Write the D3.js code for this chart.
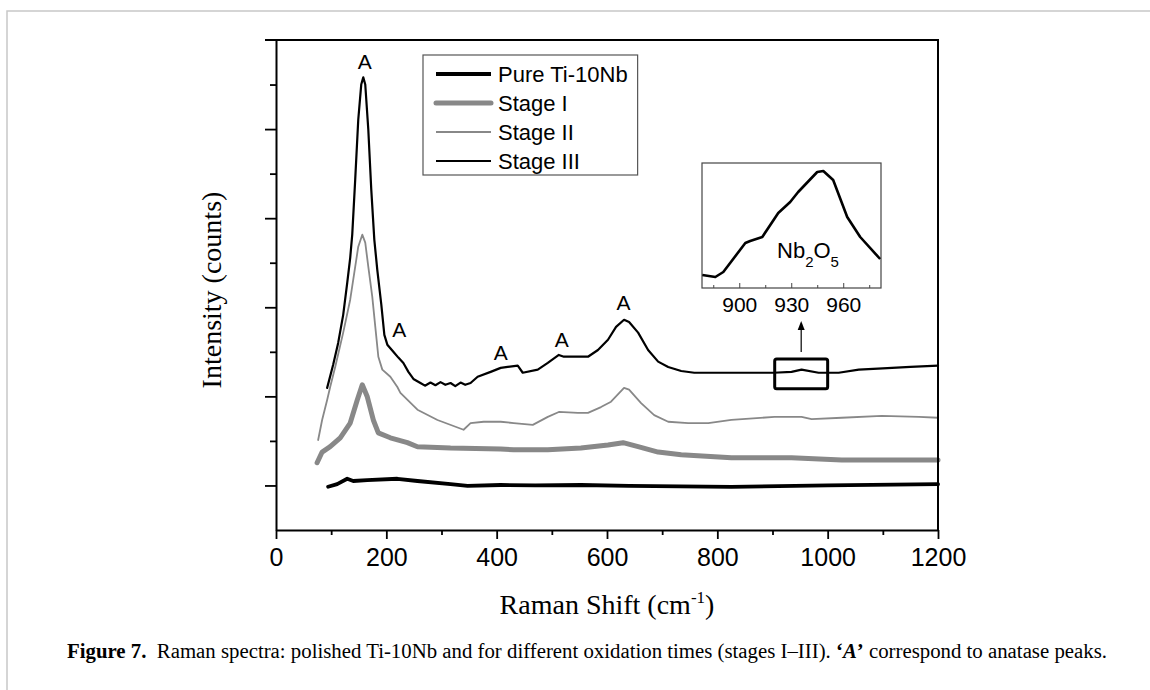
<!DOCTYPE html>
<html><head><meta charset="utf-8">
<script src="https://cdn.jsdelivr.net/npm/d3@7"></script>
<style>body{margin:0;background:#fff}svg{display:block}</style>
</head><body><svg id="c" width="1150" height="690"></svg>
<script>
// ---- data (Raman shift cm^-1, intensity in arbitrary units) ----
const pureTi = [[94.5,0.97],[110.9,1.03],[129.1,1.15],[140,1.10],[165.5,1.12],[220,1.15],[256.4,1.10],[316.4,1.03],[347.3,0.99],[407.3,1.01],[470,1.00],[552.7,1.01],[640,0.99],[825.5,0.97],[1000,1.00],[1200,1.03]];
const stageI = [[74.5,1.51],[83.6,1.75],[98.2,1.87],[116.4,2.07],[134.5,2.40],[147.3,2.92],[156.4,3.26],[165.5,2.99],[176.4,2.47],[185.5,2.18],[207.3,2.07],[238.2,1.96],[256.4,1.87],[316.4,1.84],[407.3,1.82],[430.9,1.80],[492.7,1.80],[552.7,1.84],[601.8,1.91],[629.1,1.96],[656.4,1.87],[692.7,1.75],[734.5,1.69],[825.5,1.62],[934.5,1.62],[1025.5,1.57],[1200,1.57]];
const stageII = [[76.4,2.02],[83.6,2.47],[92.7,2.92],[98.2,3.21],[107.3,3.66],[121.8,4.43],[134.5,5.17],[143.6,5.91],[149.1,6.36],[156.4,6.63],[161.8,6.45],[167.3,5.91],[174.5,5.24],[180,4.56],[185.5,3.89],[192.7,3.60],[207.3,3.44],[220,3.21],[225.5,3.08],[256.4,2.70],[292.7,2.47],[340,2.25],[352.7,2.40],[376.4,2.43],[407.3,2.43],[430.9,2.40],[465.5,2.36],[492.7,2.54],[512.7,2.65],[547.3,2.63],[565.5,2.63],[589.1,2.76],[607.3,2.88],[630.9,3.19],[640,3.15],[661.8,2.85],[685.5,2.58],[710.9,2.43],[747.3,2.40],[783.6,2.40],[825.5,2.47],[903.6,2.54],[952.7,2.54],[970.9,2.49],[1025.5,2.52],[1098.2,2.56],[1165.5,2.54],[1200,2.52]];
const stageIII = [[92.7,3.19],[103.6,3.71],[112.7,4.20],[121.8,4.83],[129.1,5.55],[134.5,6.11],[138.2,6.63],[143.6,7.87],[149.1,9.21],[154.5,10.0],[158.2,10.16],[161.8,10.0],[167.3,8.99],[172.7,7.64],[178.2,6.52],[183.6,5.84],[190.9,5.06],[196.4,4.38],[201.8,4.16],[212.7,4.00],[221.8,3.87],[230.9,3.75],[240,3.55],[249.1,3.39],[261.8,3.30],[270,3.24],[280,3.31],[289,3.25],[298.2,3.32],[307,3.26],[316.4,3.30],[325,3.23],[334.5,3.31],[343,3.26],[352.7,3.30],[365.5,3.44],[389.1,3.55],[407.3,3.64],[420,3.66],[438.2,3.69],[447.3,3.53],[474.5,3.60],[492.7,3.75],[512.7,3.93],[521.8,3.89],[547.3,3.89],[565.5,3.89],[583.6,4.04],[601.8,4.27],[616.4,4.56],[630.9,4.72],[640,4.67],[656.4,4.43],[674.5,4.04],[692.7,3.78],[710.9,3.66],[734.5,3.57],[758.2,3.53],[794.5,3.53],[825.5,3.53],[901.8,3.53],[934.5,3.55],[952.7,3.60],[983.6,3.53],[1020,3.53],[1056.4,3.60],[1100,3.63],[1150,3.66],[1200,3.69]];
const insetNb2O5 = [[878.7,10.4],[886.2,8.8],[890.8,12.8],[903.5,36],[906.3,37.6],[913.3,40.8],[922.5,60],[929.4,68.8],[934,76.8],[945,92.8],[948.5,93.6],[954.2,86.4],[962.3,56.8],[969.8,40.8],[981.3,23.2]];
const seriesNames = ["Pure Ti-10Nb","Stage I","Stage II","Stage III"];
const xTicks = [0,100,200,300,400,500,600,700,800,900,1000,1100,1200];
const xTickLabels = [0,200,400,600,800,1000,1200];
const yTicks = [1,2,3,4,5,6,7,8,9,10];
const yMajorTicks = [1,3,5,7,9];
const insetTicks = [885,900,915,930,945,960,975];
const insetTickLabels = [900,930,960];
const anataseX = [160.9,223.6,407.3,518.2,630];
const anataseY = [10.34,4.34,3.82,4.11,4.94];
const zoomBox = [904,1000,3.17,3.84];

// ---- drawing ----
const svg = d3.select("#c");
const sans = "'Liberation Sans', Arial, sans-serif";
const serif = "'Liberation Serif', 'Times New Roman', serif";
const L=276,R=938,T=40,B=530;
const x = d3.scaleLinear().domain([0,1200]).range([L,R]);
const y = d3.scaleLinear().domain([0,11]).range([B,T]);

// page frame
svg.append("path").attr("d","M7,690 L7,11 L1150,11").attr("fill","none").attr("stroke","#c8c8c8").attr("stroke-width",1.5);

const styles = [
  {c:"#000",w:3.8},
  {c:"#888",w:5},
  {c:"#888",w:1.8},
  {c:"#000",w:2.2}
];
const allSeries=[pureTi,stageI,stageII,stageIII];
const line = d3.line().x(d=>x(d[0])).y(d=>y(d[1]));
allSeries.forEach((s,i)=>{
  svg.append("path").datum(s).attr("d",line).attr("fill","none")
    .attr("stroke",styles[i].c).attr("stroke-width",styles[i].w)
    .attr("stroke-linejoin","round").attr("stroke-linecap","round");
});

// axes
const xa = svg.append("g").attr("transform",`translate(0,${B})`)
  .call(d3.axisBottom(x).tickValues(xTicks).tickSize(9).tickSizeOuter(0)
    .tickFormat(d=>xTickLabels.includes(d)?d:""));
const ya = svg.append("g").attr("transform",`translate(${L},0)`)
  .call(d3.axisLeft(y).tickValues(yTicks).tickSize(11).tickSizeOuter(0).tickFormat(""));
[xa,ya].forEach(g=>{
  g.select(".domain").attr("stroke","#000").attr("stroke-width",2);
  g.selectAll(".tick line").attr("stroke","#000").attr("stroke-width",1.8);
});
xa.selectAll(".tick").filter(d=>!xTickLabels.includes(d)).select("line").attr("y2",5);
ya.selectAll(".tick").filter(d=>!yMajorTicks.includes(d)).select("line").attr("x2",-6);
xa.selectAll(".tick text").attr("y",18).attr("font-family",sans).attr("font-size",25).attr("fill","#000");
// top & right frame
svg.append("line").attr("x1",L-11).attr("x2",R+1).attr("y1",T).attr("y2",T).attr("stroke","#000").attr("stroke-width",2.2);
svg.append("line").attr("x1",R).attr("x2",R).attr("y1",T).attr("y2",B).attr("stroke","#000").attr("stroke-width",2);

// axis titles
svg.append("text").attr("x",(L+R)/2).attr("y",614).attr("text-anchor","middle")
  .attr("font-family",serif).attr("font-size",28)
  .html('Raman Shift (cm<tspan dy="-11" font-size="17">-1</tspan><tspan dy="11">)</tspan>');
svg.append("text").attr("transform",`translate(221,${(T+B)/2+5}) rotate(-90)`).attr("text-anchor","middle")
  .attr("font-family",serif).attr("font-size",28).text("Intensity (counts)");

// anatase labels
anataseX.forEach((ax,i)=>{
  svg.append("text").attr("x",x(ax)).attr("y",y(anataseY[i])).attr("text-anchor","middle")
    .attr("font-family",sans).attr("font-size",21).text("A");
});

// legend
const lg = svg.append("g");
const legRect = lg.append("rect").attr("x",423).attr("y",55).attr("height",120).attr("fill","#fff").attr("stroke","#555").attr("stroke-width",1.2);
let maxW=0;
seriesNames.forEach((n,i)=>{
  const ly = 74+i*29;
  lg.append("line").attr("x1",436).attr("x2",491).attr("y1",ly).attr("y2",ly)
    .attr("stroke",styles[i].c).attr("stroke-width",styles[i].w).attr("stroke-linecap", i===1?"round":"butt");
  const t = lg.append("text").attr("x",498).attr("y",ly+7.6).attr("font-family",sans).attr("font-size",22).text(n);
  maxW=Math.max(maxW,t.node().getComputedTextLength());
});
legRect.attr("width",498+maxW+10-423);

// zoom box & arrow
svg.append("rect").attr("x",x(zoomBox[0])).attr("y",y(zoomBox[3])).attr("width",x(zoomBox[1])-x(zoomBox[0]))
  .attr("height",y(zoomBox[2])-y(zoomBox[3])).attr("fill","none").attr("stroke","#000").attr("stroke-width",3).attr("rx",2);
const ax0 = (x(zoomBox[0])+x(zoomBox[1]))/2;
svg.append("line").attr("x1",ax0).attr("x2",ax0).attr("y1",352).attr("y2",328).attr("stroke","#000").attr("stroke-width",1.2);
svg.append("path").attr("d",`M${ax0},321 L${ax0-3.5},330 L${ax0+3.5},330 Z`).attr("fill","#000");

// inset
const IL=702,IR=881,IT=163,IB=288;
const ix = d3.scaleLinear().domain([878.5,981.8]).range([IL,IR]);
const iy = d3.scaleLinear().domain([0,100]).range([IB,IT]);
svg.append("rect").attr("x",IL).attr("y",IT).attr("width",IR-IL).attr("height",IB-IT).attr("fill","#fff").attr("stroke","#444").attr("stroke-width",1.2);
const ia = svg.append("g").attr("transform",`translate(0,${IB})`)
  .call(d3.axisBottom(ix).tickValues(insetTicks).tickSize(-5).tickSizeOuter(0)
   .tickFormat(d=>insetTickLabels.includes(d)?d:""));
ia.select(".domain").remove();
ia.selectAll(".tick line").attr("stroke","#444");
ia.selectAll(".tick").filter(d=>!insetTickLabels.includes(d)).select("line").attr("y2",-3);
ia.selectAll(".tick text").attr("y",9).attr("font-family",sans).attr("font-size",21).attr("fill","#000");
const iline = d3.line().x(d=>ix(d[0])).y(d=>iy(d[1]));
svg.append("path").datum(insetNb2O5).attr("d",iline).attr("fill","none").attr("stroke","#000").attr("stroke-width",2.6).attr("stroke-linejoin","round");
svg.append("text").attr("x",777).attr("y",258).attr("font-family",sans).attr("font-size",22)
  .html('Nb<tspan dy="9" font-size="15">2</tspan><tspan dy="-9">O</tspan><tspan dy="9" font-size="15">5</tspan>');

// caption
svg.append("text").attr("x",67).attr("y",658).attr("font-family",serif).attr("font-size",20.5)
  .attr("textLength",1040).attr("lengthAdjust","spacingAndGlyphs")
  .html('<tspan font-weight="bold">Figure 7.</tspan>\u2002Raman spectra: polished Ti-10Nb and for different oxidation times (stages I–III). <tspan font-weight="bold">‘<tspan font-style="italic">A</tspan>’</tspan> correspond to anatase peaks.');
</script></body></html>
